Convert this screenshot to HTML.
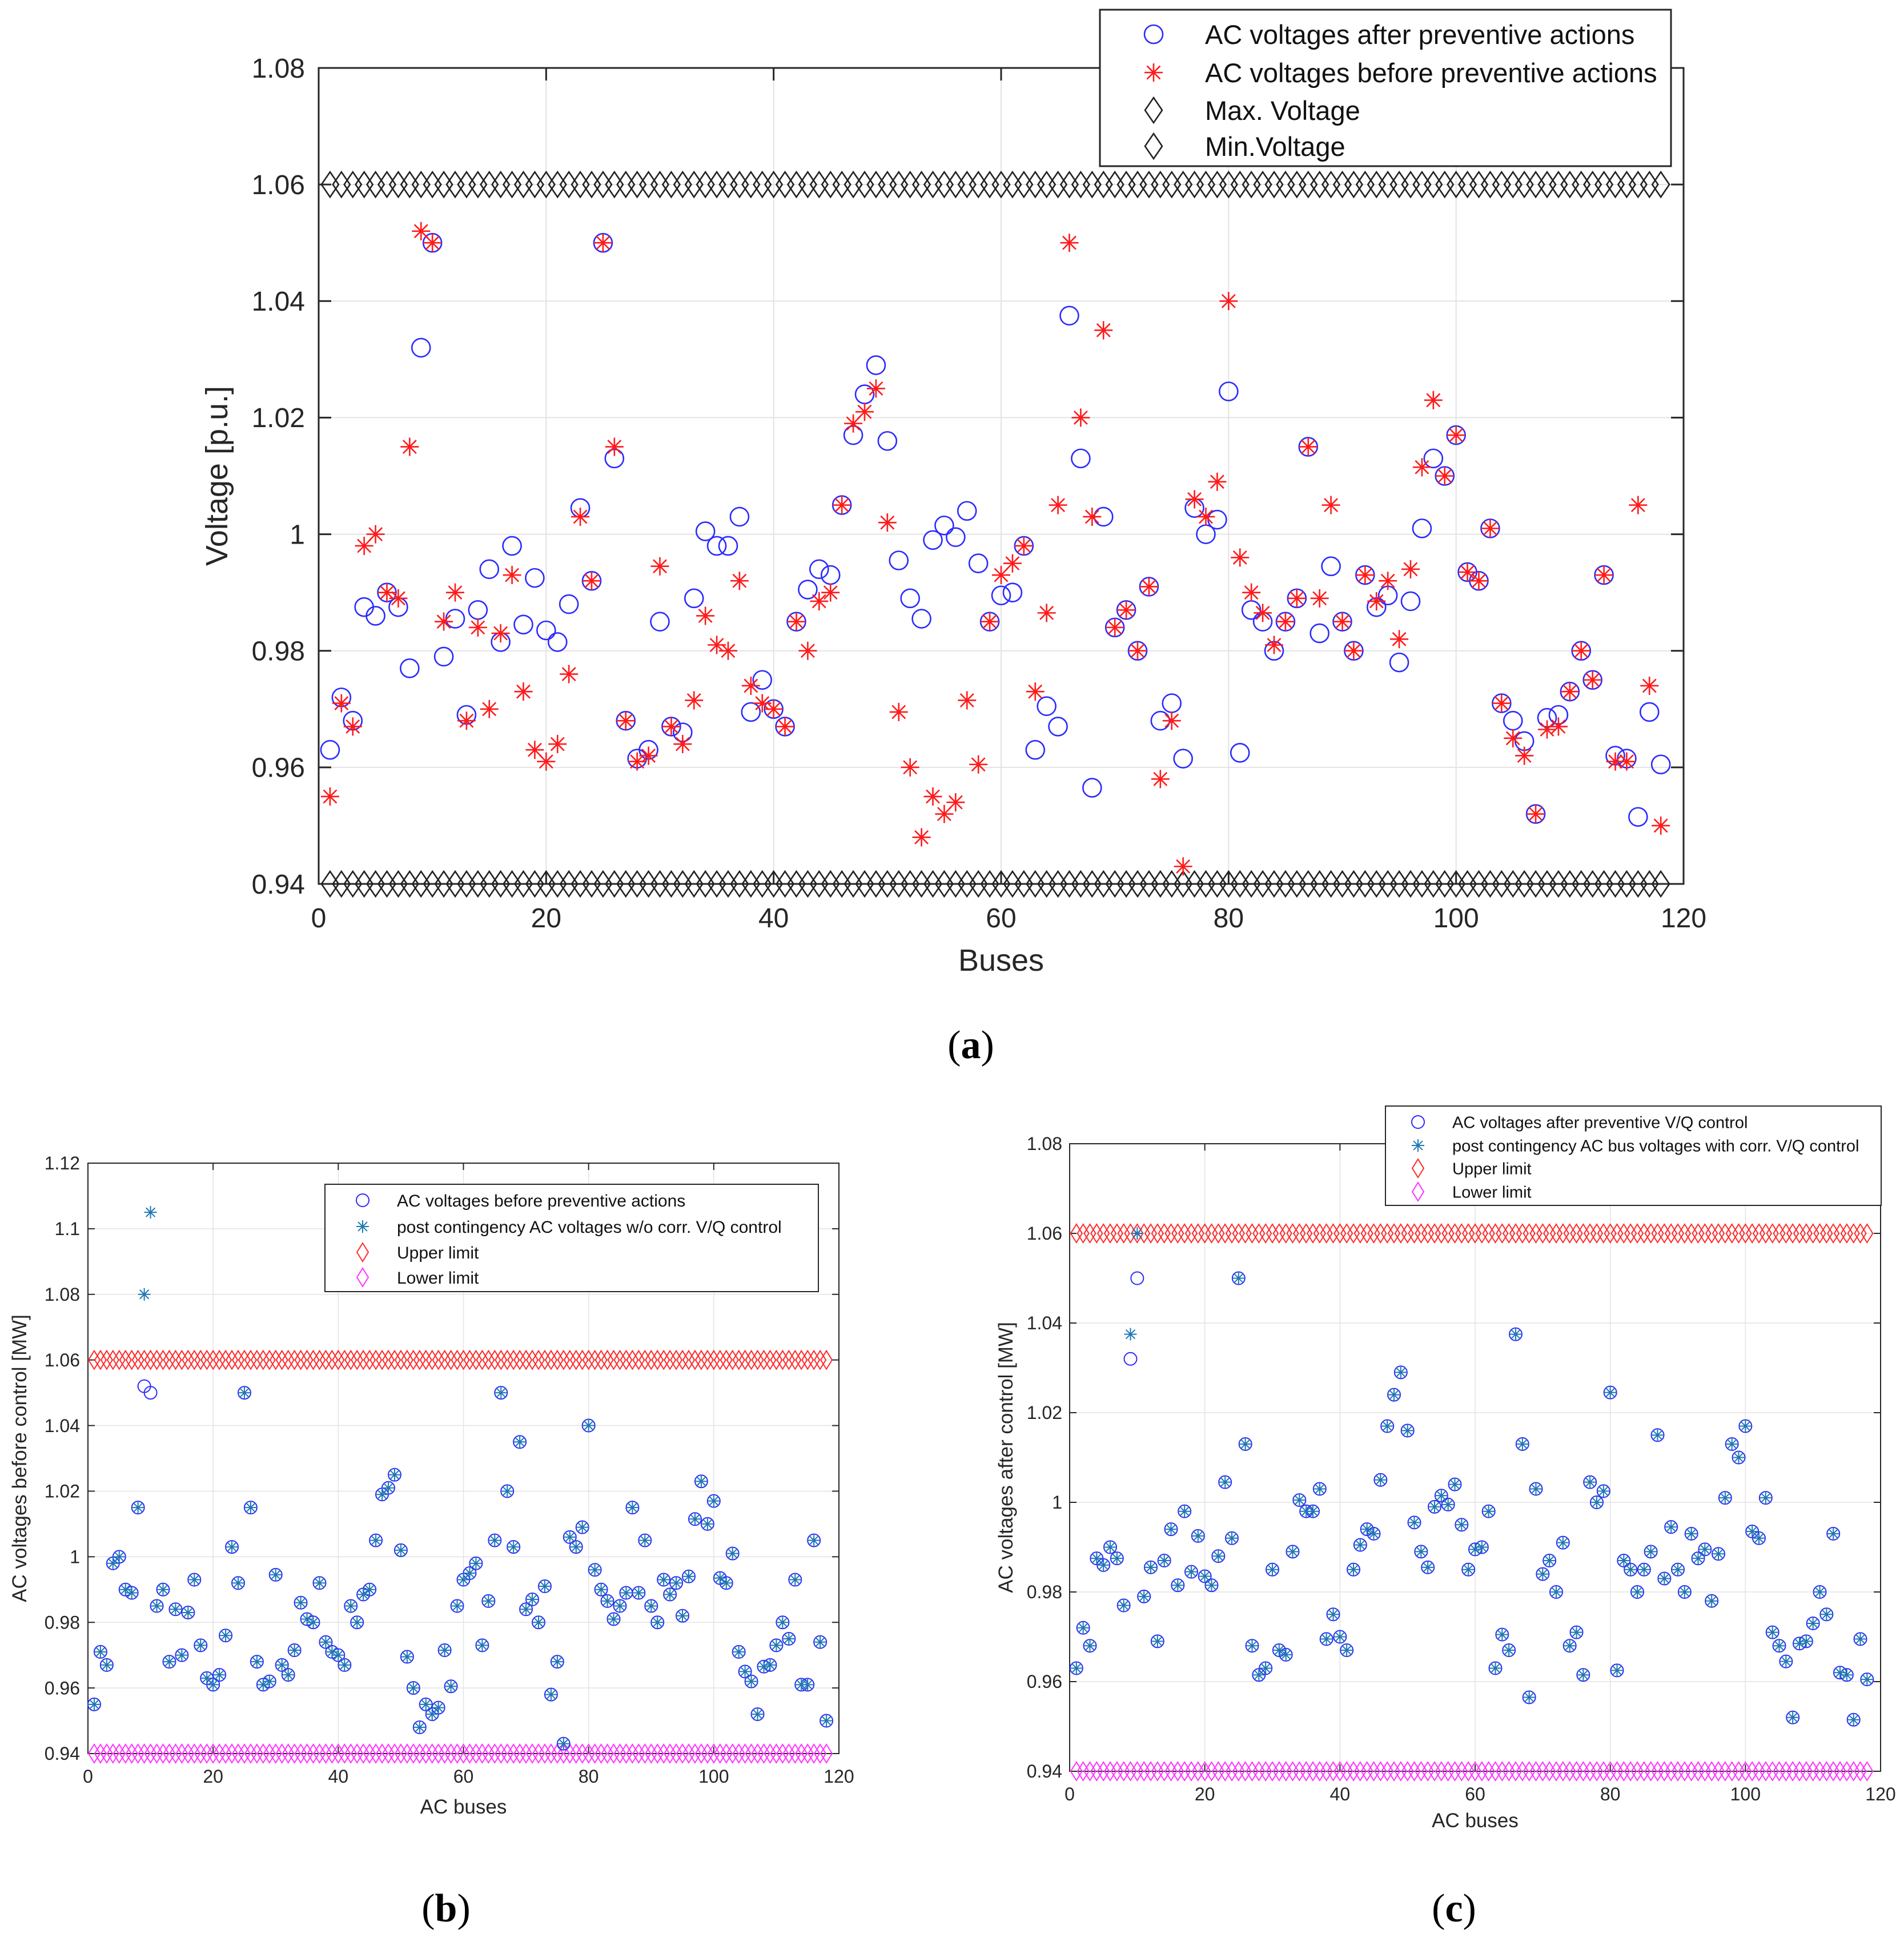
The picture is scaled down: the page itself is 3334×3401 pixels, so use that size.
<!DOCTYPE html>
<html><head><meta charset="utf-8"><style>
html,body{margin:0;padding:0;background:#fff;}
svg{display:block;font-family:"Liberation Sans",sans-serif;}
</style></head><body>
<svg id="fig" width="3334" height="3401" viewBox="0 0 3334 3401" xmlns="http://www.w3.org/2000/svg"></svg>
<script>
const buses = Array.from({length:118},(_,i)=>i+1);
const vAfter = [0.963,0.972,0.968,0.9875,0.986,0.990,0.9875,0.977,1.032,1.050,0.979,0.9855,0.969,0.987,0.994,0.9815,0.998,0.9845,0.9925,0.9835,0.9815,0.988,1.0045,0.992,1.050,1.013,0.968,0.9615,0.963,0.985,0.967,0.966,0.989,1.0005,0.998,0.998,1.003,0.9695,0.975,0.970,0.967,0.985,0.9905,0.994,0.993,1.005,1.017,1.024,1.029,1.016,0.9955,0.989,0.9855,0.999,1.0015,0.9995,1.004,0.995,0.985,0.9895,0.990,0.998,0.963,0.9705,0.967,1.0375,1.013,0.9565,1.003,0.984,0.987,0.980,0.991,0.968,0.971,0.9615,1.0045,1.000,1.0025,1.0245,0.9625,0.987,0.985,0.980,0.985,0.989,1.015,0.983,0.9945,0.985,0.980,0.993,0.9875,0.9895,0.978,0.9885,1.001,1.013,1.010,1.017,0.9935,0.992,1.001,0.971,0.968,0.9645,0.952,0.9685,0.969,0.973,0.980,0.975,0.993,0.962,0.9615,0.9515,0.9695,0.9605];
const vBefore = [0.955,0.971,0.967,0.998,1.000,0.990,0.989,1.015,1.052,1.050,0.985,0.990,0.968,0.984,0.970,0.983,0.993,0.973,0.963,0.961,0.964,0.976,1.003,0.992,1.050,1.015,0.968,0.961,0.962,0.9945,0.967,0.964,0.9715,0.986,0.981,0.980,0.992,0.974,0.971,0.970,0.967,0.985,0.980,0.9885,0.990,1.005,1.019,1.021,1.025,1.002,0.9695,0.960,0.948,0.955,0.952,0.954,0.9715,0.9605,0.985,0.993,0.995,0.998,0.973,0.9865,1.005,1.050,1.020,1.003,1.035,0.984,0.987,0.980,0.991,0.958,0.968,0.943,1.006,1.003,1.009,1.040,0.996,0.990,0.9865,0.981,0.985,0.989,1.015,0.989,1.005,0.985,0.980,0.993,0.9885,0.992,0.982,0.994,1.0115,1.023,1.010,1.017,0.9935,0.992,1.001,0.971,0.965,0.962,0.952,0.9665,0.967,0.973,0.980,0.975,0.993,0.961,0.961,1.005,0.974,0.950];
const postNoCorrOverrides = [[9,1.080],[10,1.105]];
const postCorrOverrides = [[9,1.0375],[10,1.060]];
const xTicks = [0,20,40,60,80,100,120];
const yTicksA = ["0.94","0.96","0.98","1","1.02","1.04","1.06","1.08"];
const yTicksB = ["0.94","0.96","0.98","1","1.02","1.04","1.06","1.08","1.1","1.12"];
const yTicksC = ["0.94","0.96","0.98","1","1.02","1.04","1.06","1.08"];
const vMax = 1.06, vMin = 0.94;

const NS="http://www.w3.org/2000/svg";
const svg=document.getElementById('fig');
function mk(tag,attrs,parent){const e=document.createElementNS(NS,tag);for(const k in attrs)e.setAttribute(k,attrs[k]);(parent||svg).appendChild(e);return e;}
function txt(s,attrs,parent){const e=mk('text',attrs,parent);e.textContent=s;return e;}
function circ(g,x,y,r,col,sw){return mk('circle',{cx:x,cy:y,r:r,fill:'none',stroke:col,'stroke-width':sw},g);}
function star(g,x,y,r,col,sw){const d=r*0.72;return mk('path',{d:`M${x},${y-r}V${y+r}M${x-r},${y}H${x+r}M${x-d},${y-d}L${x+d},${y+d}M${x-d},${y+d}L${x+d},${y-d}`,stroke:col,'stroke-width':sw,fill:'none'},g);}
function diam(g,x,y,w,h,col,sw){return mk('path',{d:`M${x},${y-h}L${x+w},${y}L${x},${y+h}L${x-w},${y}Z`,fill:'none',stroke:col,'stroke-width':sw},g);}

function chart(c){
  const g=mk('g',{});
  
  
  const X=v=>c.x0+(v-0)/120*(c.x1-c.x0);
  const Y=v=>c.y1+(c.ymax-v)/(c.ymax-c.ymin)*(c.y0-c.y1);
  const grid=mk('g',{},g);
  
  
  xTicks.forEach(t=>mk('line',{x1:X(t),x2:X(t),y1:c.y1,y2:c.y0,stroke:'#e3e3e3','stroke-width':c.gw},grid));
  c.yTicks.forEach(t=>mk('line',{x1:c.x0,x2:c.x1,y1:Y(+t),y2:Y(+t),stroke:'#e3e3e3','stroke-width':c.gw},grid));
  const ax=mk('g',{},g);
  
  
  xTicks.forEach(t=>{
    mk('line',{x1:X(t),x2:X(t),y1:c.y0,y2:c.y0-c.tl,stroke:'#262626','stroke-width':c.bw},ax);
    mk('line',{x1:X(t),x2:X(t),y1:c.y1,y2:c.y1+c.tl,stroke:'#262626','stroke-width':c.bw},ax);
    const l=txt(String(t),{x:X(t),y:c.xlabY,'font-size':c.fs,'text-anchor':'middle',fill:'#262626'},ax);
    
    
  });
  c.yTicks.forEach(t=>{
    mk('line',{x1:c.x0,x2:c.x0+c.tl,y1:Y(+t),y2:Y(+t),stroke:'#262626','stroke-width':c.bw},ax);
    mk('line',{x1:c.x1,x2:c.x1-c.tl,y1:Y(+t),y2:Y(+t),stroke:'#262626','stroke-width':c.bw},ax);
    const l=txt(t,{x:c.ylabX,y:Y(+t)+c.fs*0.35,'font-size':c.fs,'text-anchor':'end',fill:'#262626'},ax);
    
    
  });
  const lim=mk('g',{},g);
  
  
  buses.forEach(b=>{diam(lim,X(b),Y(vMax),c.dw,c.dh,c.upCol,c.msw);diam(lim,X(b),Y(vMin),c.dw,c.dh,c.loCol,c.msw);});
  const s1=mk('g',{},g);
  
  
  c.circ.forEach((v,i)=>circ(s1,X(buses[i]),Y(v),c.cr,'#2b2bff',c.msw));
  const s2=mk('g',{},g);
  
  
  c.star.forEach((v,i)=>star(s2,X(buses[i]),Y(v),c.sr,c.starCol,c.msw));
  mk('rect',{x:c.x0,y:c.y1,width:c.x1-c.x0,height:c.y0-c.y1,fill:'none',stroke:'#262626','stroke-width':c.bw},ax);
  const xl=txt(c.xlabel,{x:(c.x0+c.x1)/2,y:c.xtitleY,'font-size':c.tfs,'text-anchor':'middle',fill:'#262626'},g);
  
  
  const yl=txt(c.ylabel,{x:0,y:0,'font-size':c.tfs,'text-anchor':'middle',fill:'#262626',transform:`translate(${c.ytitleX},${(c.y0+c.y1)/2}) rotate(-90)`},g);
  
  
  const lg=mk('g',{},g);
  
  
  const L=c.leg;
  mk('rect',{x:L.x,y:L.y,width:L.w,height:L.h,fill:'#fff',stroke:'#262626','stroke-width':c.bw},lg);
  L.items.forEach((it,i)=>{
    const y=L.ys[i];
    if(it[0]==='c')circ(lg,L.mx,y,c.cr,'#2b2bff',c.msw);
    else if(it[0]==='s')star(lg,L.mx,y,c.sr,c.starCol,c.msw);
    else diam(lg,L.mx,y,c.dw,c.dh,it[0],c.msw);
    const t=txt(it[1],{x:L.tx,y:y+L.fs*0.36,'font-size':L.fs,fill:'#111'},lg);
    
    
  });
}

function withOverrides(base,ov){const a=base.slice();ov.forEach(([b,v])=>a[b-1]=v);return a;}

chart({name:'chart-a',x0:558,x1:2948,y0:1548,y1:119,ymin:0.94,ymax:1.08,yTicks:yTicksA,
  gw:2,bw:3,tl:22,fs:48,tfs:54,xlabY:1624,ylabX:534,xtitleY:1700,ytitleX:398,
  xlabel:'Buses',ylabel:'Voltage [p.u.]',
  circ:vAfter,star:vBefore,starCol:'#ff1a1a',cr:16,sr:16,dw:15,dh:22,msw:2.6,upCol:'#222',loCol:'#222',
  leg:{x:1926,y:17,w:1000,h:274,mx:2020,tx:2110,fs:47,ys:[60,127,193,256],
   items:[['c','AC voltages after preventive actions'],['s','AC voltages before preventive actions'],['#222','Max. Voltage'],['#222','Min.Voltage']]}});

chart({name:'chart-b',x0:154,x1:1469,y0:3071,y1:2037,ymin:0.94,ymax:1.12,yTicks:yTicksB,
  gw:1.5,bw:2,tl:12,fs:32,tfs:35,xlabY:3122,ylabX:140,xtitleY:3176,ytitleX:46,
  xlabel:'AC buses',ylabel:'AC voltages before control [MW]',
  circ:vBefore,star:withOverrides(vBefore,postNoCorrOverrides),starCol:'#1f77b4',cr:11,sr:11,dw:10,dh:16,msw:2,upCol:'#ff2a2a',loCol:'#ff33ff',
  leg:{x:569,y:2074,w:864,h:188,mx:635,tx:695,fs:30,ys:[2102,2148,2193,2237],
   items:[['c','AC voltages before preventive actions'],['s','post contingency AC voltages w/o corr. V/Q control'],['#ff2a2a','Upper limit'],['#ff33ff','Lower limit']]}});

chart({name:'chart-c',x0:1873,x1:3293,y0:3102,y1:2003,ymin:0.94,ymax:1.08,yTicks:yTicksC,
  gw:1.5,bw:2,tl:12,fs:32,tfs:35,xlabY:3153,ylabX:1860,xtitleY:3200,ytitleX:1773,
  xlabel:'AC buses',ylabel:'AC voltages after control [MW]',
  circ:vAfter,star:withOverrides(vAfter,postCorrOverrides),starCol:'#1f77b4',cr:11,sr:11,dw:10,dh:16,msw:2,upCol:'#ff2a2a',loCol:'#ff33ff',
  leg:{x:2426,y:1937,w:868,h:174,mx:2483,tx:2543,fs:29,ys:[1965,2006,2046,2087],
   items:[['c','AC voltages after preventive V/Q control'],['s','post contingency AC bus voltages with corr. V/Q control'],['#ff2a2a','Upper limit'],['#ff33ff','Lower limit']]}});

[['(a)',1700,1853,'a'],['(b)',781,3365,'b'],['(c)',2546,3365,'c']].forEach(([s,x,y,l])=>{
  const t=mk('text',{x:x,y:y,'font-size':70,'text-anchor':'middle','font-family':'Liberation Serif, serif',fill:'#000'});
  
  
  t.appendChild(document.createTextNode('('));
  const b=document.createElementNS(NS,'tspan');b.setAttribute('font-weight','bold');b.textContent=l;t.appendChild(b);
  t.appendChild(document.createTextNode(')'));
});
</script>
</body></html>
